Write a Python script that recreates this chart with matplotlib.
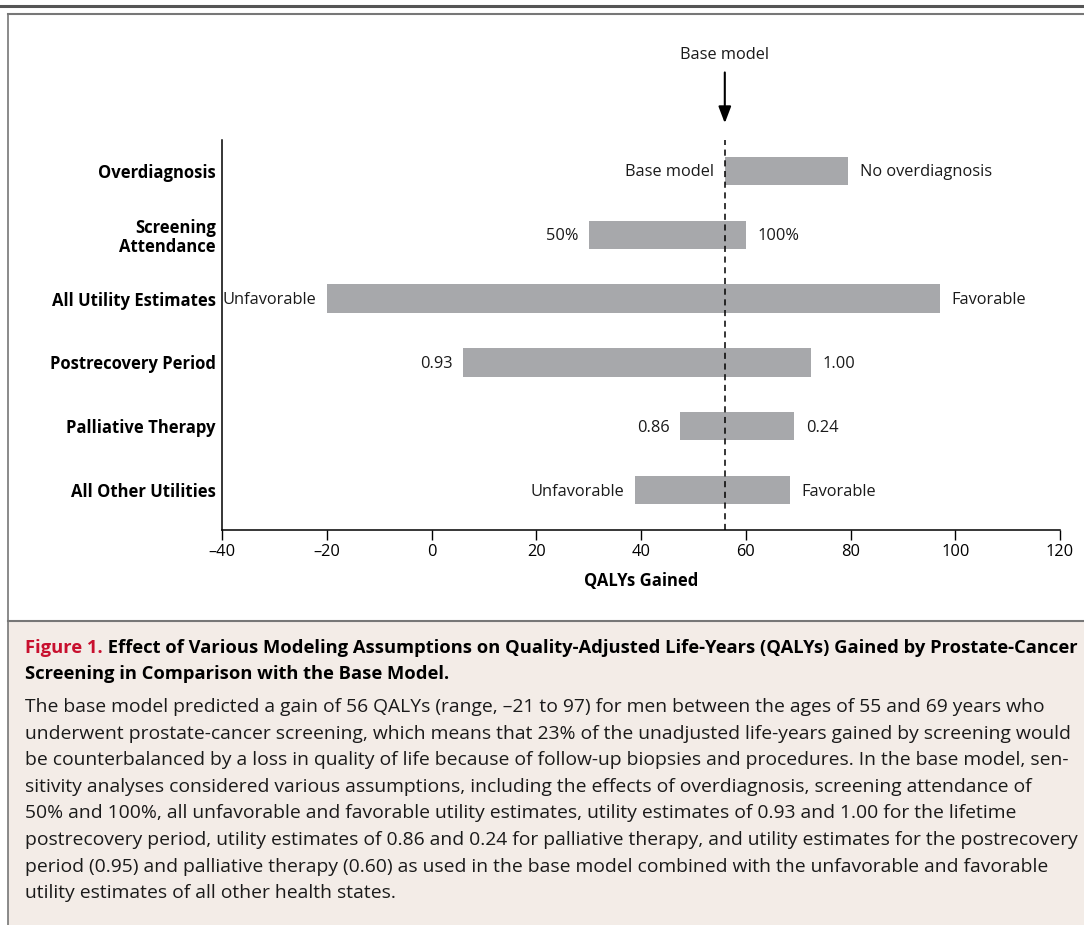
import matplotlib
matplotlib.use("Agg")
import matplotlib.pyplot as plt
from matplotlib.patches import Rectangle
from matplotlib.lines import Line2D

categories = ["Overdiagnosis", "Screening\nAttendance", "All Utility Estimates",
              "Postrecovery Period", "Palliative Therapy", "All Other Utilities"]
low_values = [56, 30, -20, 6, 47.4, 38.8]
high_values = [79.5, 60, 97, 72.4, 69.2, 68.4]
low_labels = ["Base model", "50%", "Unfavorable", "0.93", "0.86", "Unfavorable"]
high_labels = ["No overdiagnosis", "100%", "Favorable", "1.00", "0.24", "Favorable"]
base_value = 56
x_ticks = [-40, -20, 0, 20, 40, 60, 80, 100, 120]
x_tick_labels = ["\u201340", "\u201320", "0", "20", "40", "60", "80", "100", "120"]

FONT = "Open Sans"
plt.rcParams['font.family'] = [FONT, 'DejaVu Sans']

W, H = 1084, 925
fig = plt.figure(figsize=(W / 100, H / 100), dpi=100)

def fx(px):
    return px / W

def fy(py):
    return 1 - py / H

# background frame
fig.patches.append(Rectangle((fx(8), 0), fx(W), fy(621), transform=fig.transFigure,
                             facecolor="#f3ece7", edgecolor="none", zorder=0))
fig.lines.append(Line2D([0, 1], [fy(6), fy(6)], transform=fig.transFigure, color="#555555", lw=2.2))
fig.lines.append(Line2D([fx(8), 1], [fy(14), fy(14)], transform=fig.transFigure, color="#777777", lw=1.5))
fig.lines.append(Line2D([fx(8), 1], [fy(621), fy(621)], transform=fig.transFigure, color="#777777", lw=1.5))
fig.lines.append(Line2D([fx(8), fx(8)], [0, fy(14)], transform=fig.transFigure, color="#777777", lw=1.2))

ax = fig.add_axes([fx(222), fy(530), fx(1060 - 222), fy(140) - fy(530)])
ax.set_facecolor("none")
n = len(categories)
ys = list(range(n))
for i in ys:
    ax.barh(i, high_values[i] - low_values[i], left=low_values[i], height=0.44,
            color="#a7a8ab", edgecolor="none", zorder=2)
    ax.annotate(low_labels[i], (low_values[i], i), xytext=(-7.5, -1), textcoords="offset points",
                ha="right", va="center", fontsize=11.8, color="#1a1a1a")
    ax.annotate(high_labels[i], (high_values[i], i), xytext=(8.5, -1), textcoords="offset points",
                ha="left", va="center", fontsize=11.8, color="#1a1a1a")

ax.set_xlim(-40, 120)
ax.set_ylim(n - 1 + 0.62, -0.48)
ax.axvline(base_value, color="black", lw=1.1, ls=(0, (4, 3)), zorder=3)
ax.set_xticks(x_ticks)
ax.set_xticklabels(x_tick_labels, fontsize=11.8)
ax.set_yticks(ys)
ax.set_yticklabels(categories, fontsize=12, fontweight="bold", linespacing=1.1)
ax.tick_params(axis="y", length=0, pad=4.5)
ax.tick_params(axis="x", length=7, width=1, direction="out", pad=3)
for s in ["top", "right"]:
    ax.spines[s].set_visible(False)
for s in ["left", "bottom"]:
    ax.spines[s].set_linewidth(1.1)
ax.set_xlabel("QALYs Gained", fontsize=12, fontweight="bold", labelpad=9)

# base model arrow
ax.annotate("", xy=(base_value, -0.70), xytext=(base_value, -1.58), xycoords="data",
            annotation_clip=False,
            arrowprops=dict(arrowstyle="-|>,head_length=1.0,head_width=0.38", color="black", lw=1.5))
ax.text(base_value, -1.81, "Base model", ha="center", va="center", fontsize=11.8,
        color="#1a1a1a", clip_on=False)

# caption
title1_red = "Figure 1."
title1_rest = " Effect of Various Modeling Assumptions on Quality-Adjusted Life-Years (QALYs) Gained by Prostate-Cancer"
title2 = "Screening in Comparison with the Base Model."
body = [
    "The base model predicted a gain of 56 QALYs (range, \u201321 to 97) for men between the ages of 55 and 69 years who",
    "underwent prostate-cancer screening, which means that 23% of the unadjusted life-years gained by screening would",
    "be counterbalanced by a loss in quality of life because of follow-up biopsies and procedures. In the base model, sen-",
    "sitivity analyses considered various assumptions, including the effects of overdiagnosis, screening attendance of",
    "50% and 100%, all unfavorable and favorable utility estimates, utility estimates of 0.93 and 1.00 for the lifetime",
    "postrecovery period, utility estimates of 0.86 and 0.24 for palliative therapy, and utility estimates for the postrecovery",
    "period (0.95) and palliative therapy (0.60) as used in the base model combined with the unfavorable and favorable",
    "utility estimates of all other health states.",
]

renderer = fig.canvas.get_renderer()

def max_width(lines, weight, size):
    best = 0
    for s in lines:
        t = fig.text(0, 0, s, fontsize=size, fontweight=weight)
        best = max(best, t.get_window_extent(renderer).width)
        t.remove()
    return best

LX = 25
title_fs = 12.0 * (1075 - LX) / max_width([title1_red + title1_rest], "bold", 12.0)
body_fs = 12.0 * (1072 - LX) / max_width(body, "normal", 12.0)

t_red = fig.text(fx(LX), fy(653), title1_red, color="#c8102e", fontsize=title_fs, fontweight="bold",
                 ha="left", va="baseline")
bb = t_red.get_window_extent(renderer)
fig.text(bb.x1 / W, fy(653), title1_rest, color="black", fontsize=title_fs, fontweight="bold",
         ha="left", va="baseline")
fig.text(fx(LX), fy(679), title2, color="black", fontsize=title_fs, fontweight="bold",
         ha="left", va="baseline")
for k, line in enumerate(body):
    fig.text(fx(LX), fy(712 + 26.6 * k), line, color="#1a1a1a", fontsize=body_fs,
             ha="left", va="baseline")

fig.savefig("out.png", dpi=100)
